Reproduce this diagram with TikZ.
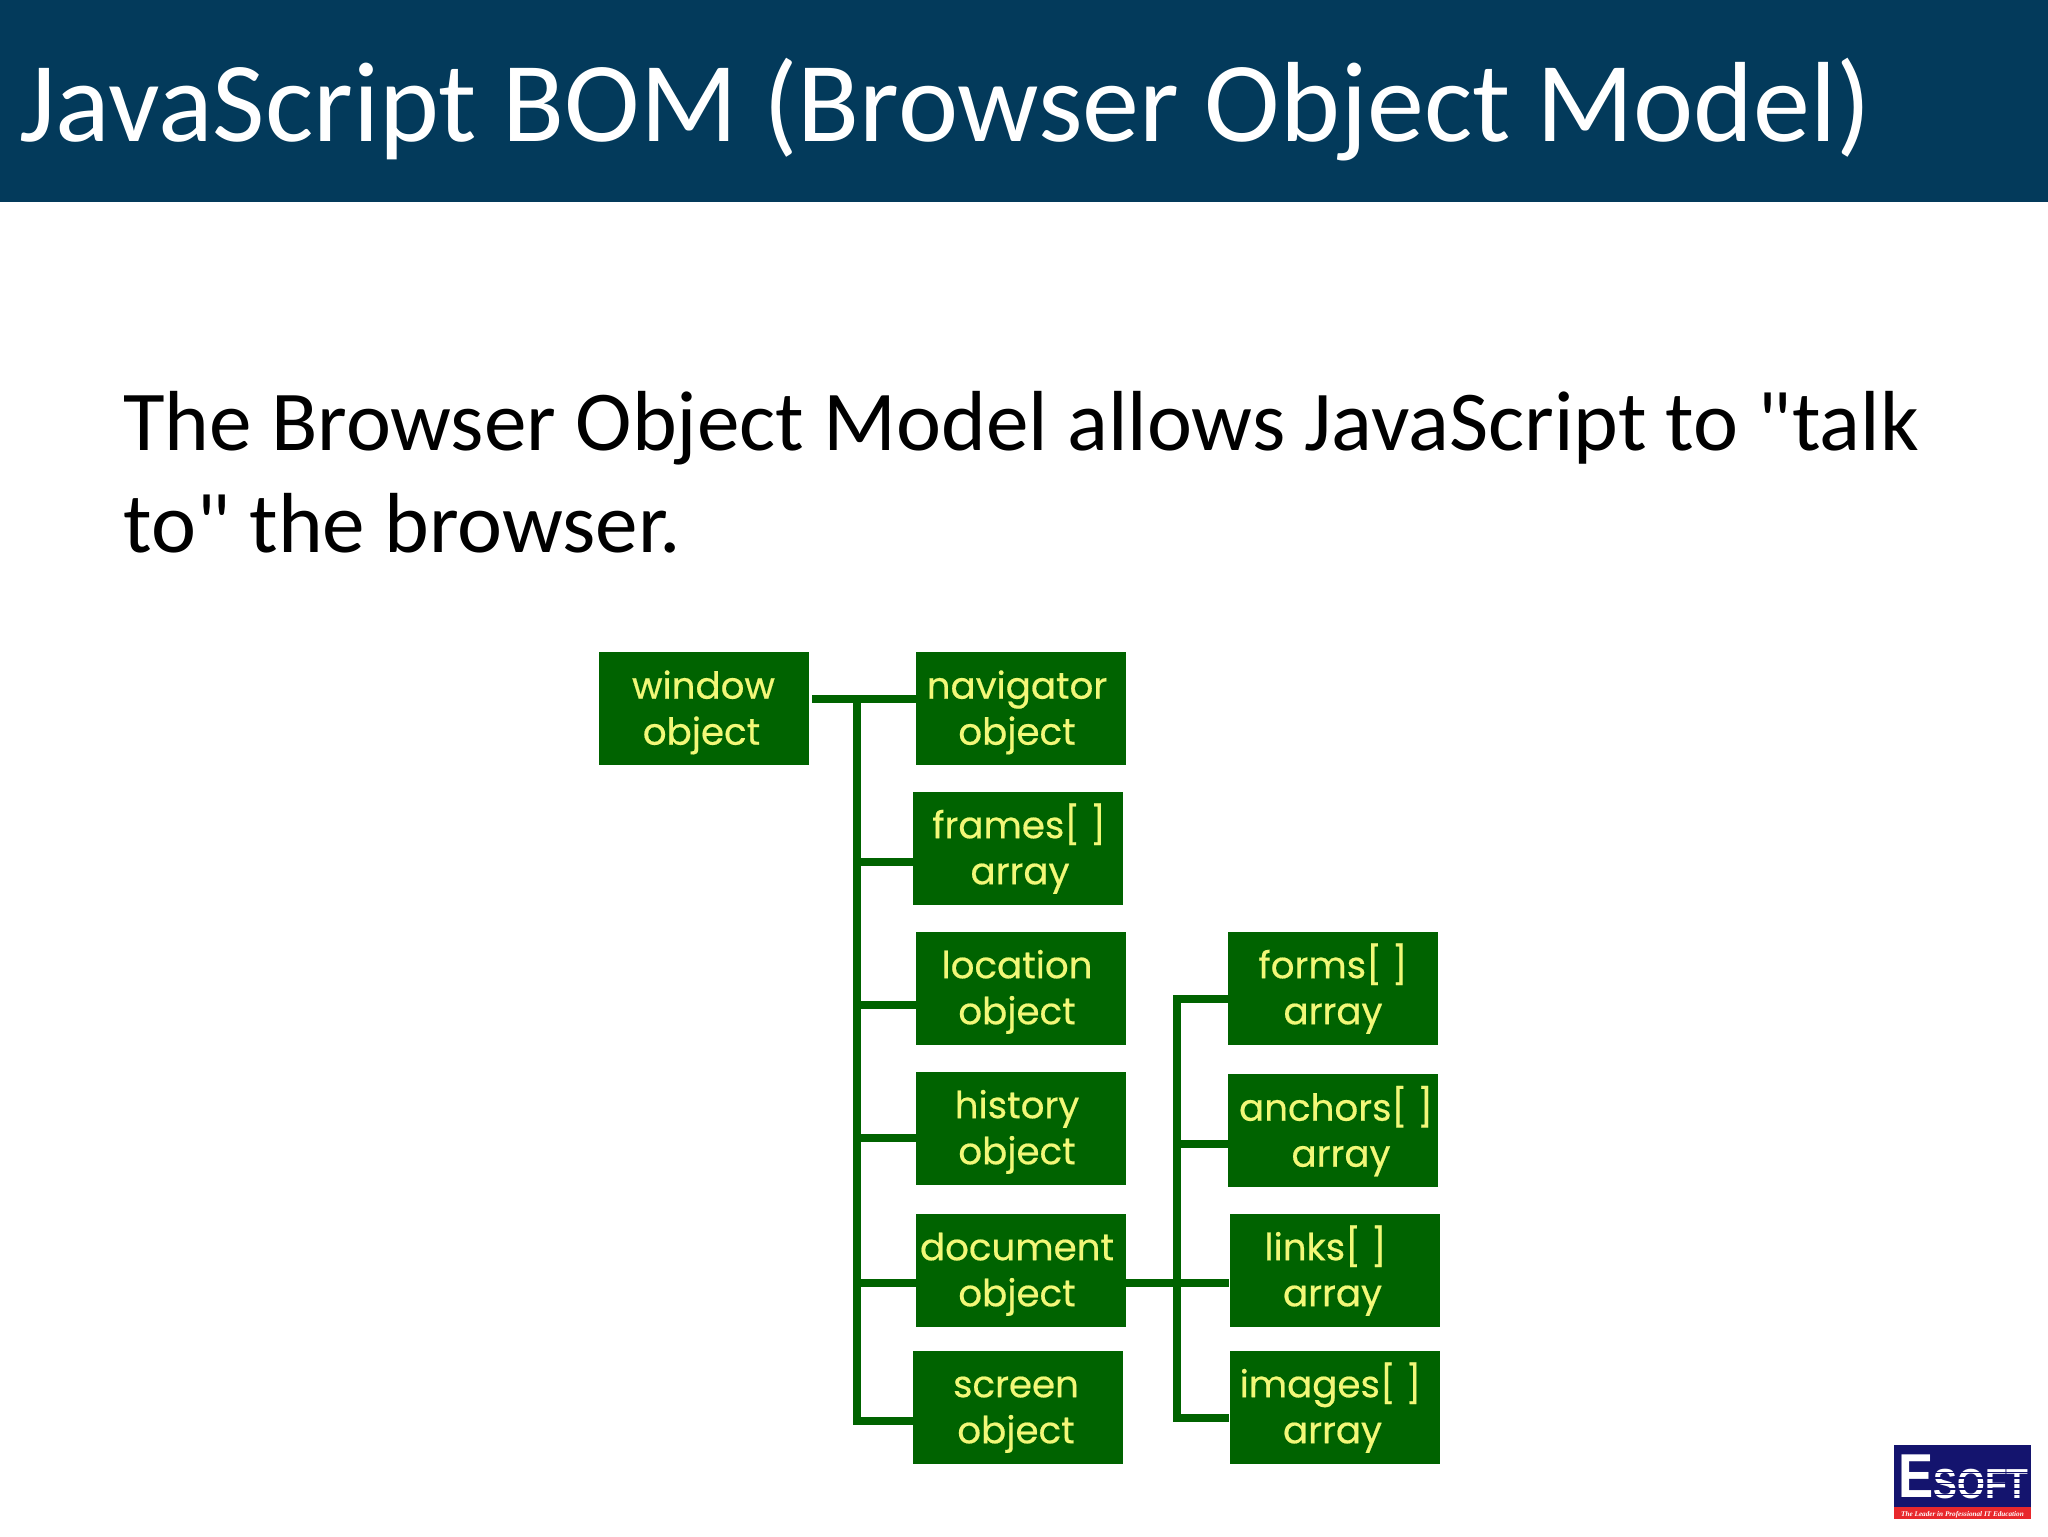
\documentclass[tikz,border=0pt]{standalone}
\usepackage{fontspec}
\newfontfamily\slidefont{Carlito}
\newfontfamily\boxfont{Poppins}[FakeBold=0.5]
\newfontfamily\logofont{Liberation Sans}
\newfontfamily\tagfont{Liberation Serif}
\definecolor{headerblue}{HTML}{033A5B}
\definecolor{boxgreen}{HTML}{006300}
\definecolor{boxyellow}{HTML}{F2F878}
\definecolor{logonavy}{HTML}{14146E}
\definecolor{logored}{HTML}{E8282C}
\newcommand{\objtext}[4]{\rule{0pt}{18.2pt}\hbox{\kern#2pt #1\kern-#2pt}\\\rule[-5pt]{0pt}{5pt}\hbox{\kern#4pt #3\kern-#4pt}}
\tikzset{
  objbox/.style={fill=boxgreen,text=boxyellow,minimum width=105pt,minimum height=56.5pt,inner sep=0pt,align=center,
    font=\boxfont\fontsize{18.6}{23}\selectfont},
  link/.style={draw=boxgreen,line width=4pt},
  slidetext/.style={anchor=base west,inner sep=0pt,text=black,font=\slidefont\fontsize{42.62}{42.62}\selectfont},
}
\begin{document}
\begin{tikzpicture}[x=0.5pt,y=-0.5pt]
\useasboundingbox (0,0) rectangle (2048,1536);
\fill[headerblue] (0,0) rectangle (2048,202);
\node[anchor=base west,inner sep=0pt,text=white,font=\slidefont\fontsize{57}{57}\selectfont] (title) at (19,141) {JavaScript BOM (Browser Object Model)};
\node[slidetext] (line1) at (123,450) {The Browser Object Model allows JavaScript to "talk};
\node[slidetext] (line2) at (123,552) {to" the browser.};
% boxes
\node[objbox] (window) at (703.5,708.5) {\objtext{window}{0}{object}{-1}};
\node[objbox] (navigator) at (1021,708.5) {\objtext{navigator}{-2}{object}{-2}};
\node[objbox] (frames) at (1018,848) {\objtext{frames[ ]}{0.5}{array}{1}};
\node[objbox] (location) at (1021,988) {\objtext{location}{-2}{object}{-2}};
\node[objbox] (history) at (1021,1128) {\objtext{history}{-2}{object}{-2}};
\node[objbox] (document) at (1021,1270) {\objtext{document}{-2}{object}{-2}};
\node[objbox] (screen) at (1018,1407) {\objtext{screen}{-1}{object}{-1}};
\node[objbox] (forms) at (1333,988) {\objtext{forms[ ]}{0}{array}{0}};
\node[objbox] (anchors) at (1333,1130.5) {\objtext{anchors[ ]}{1.5}{array}{4}};
\node[objbox] (links) at (1334.5,1270) {\objtext{links[ ]}{-4.5}{array}{-1}};
\node[objbox] (images) at (1334.5,1407) {\objtext{images[ ]}{-2}{array}{-1}};
% left trunk
\coordinate (lstart) at (812,699);
\coordinate (ltop) at (857,699);
\coordinate (l2) at (857,862);
\coordinate (l3) at (857,1004.5);
\coordinate (l4) at (857,1137.5);
\coordinate (l5) at (857,1283);
\coordinate (l6) at (857,1421);
\draw[link] (lstart) -- (lstart -| navigator.west);
\draw[link,line cap=rect] (ltop) -- (l6);
\draw[link] (l2) -- (l2 -| frames.west);
\draw[link] (l3) -- (l3 -| location.west);
\draw[link] (l4) -- (l4 -| history.west);
\draw[link] (l5) -- (l5 -| document.west);
\draw[link] (l6) -- (l6 -| screen.west);
% right trunk
\coordinate (r1) at (1177,999);
\coordinate (r2) at (1177,1144);
\coordinate (r3) at (1177,1283);
\coordinate (r4) at (1177,1418);
\draw[link,line cap=rect] (r1) -- (r4);
\draw[link] (r1) -- (r1 -| forms.west);
\draw[link] (r2) -- (r2 -| anchors.west);
\draw[link] (r3 -| document.east) -- (r3 -| links.west);
\draw[link] (r4) -- (r4 -| images.west);
% logo
\fill[logonavy] (1894,1445) rectangle (2031,1507);
\fill[logored] (1894,1507) rectangle (2031,1519);
\node[anchor=base west,inner sep=0pt,text=white,font=\logofont\bfseries\fontsize{31}{31}\selectfont] (logoe) at (1898,1497) {\scalebox{0.85}[1]{E}};
\node[anchor=base west,inner sep=0pt,text=white,font=\logofont\bfseries\fontsize{21}{21}\selectfont] (logos) at (1933,1498) {\scalebox{0.85}[1]{SOFT}};
\foreach \yy in {1472.5,1478,1483.5,1489,1494.5}{\draw[logonavy,line width=0.6pt] (1932,\yy) -- (2028,\yy);}
\node[anchor=base,inner sep=0pt,text=white,font=\tagfont\bfseries\itshape\fontsize{3.6}{4}\selectfont] (logot) at (1962.5,1516) {The Leader in Professional IT Education};
\end{tikzpicture}
\end{document}
